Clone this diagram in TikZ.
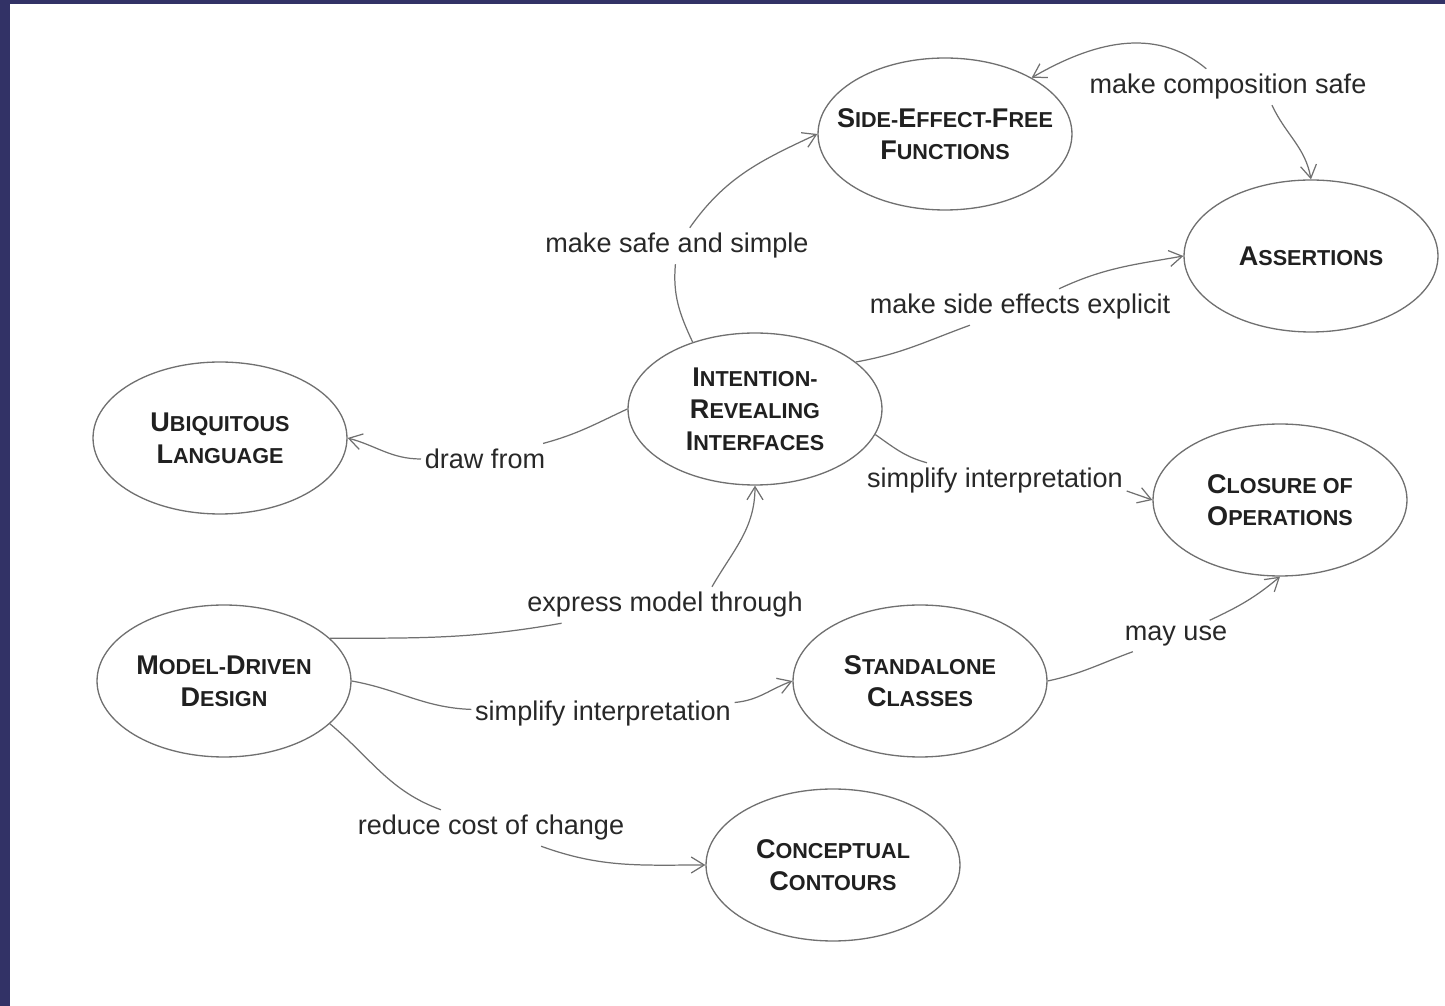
\documentclass[tikz,border=0pt]{standalone}
\usepackage{fontspec}
\setmainfont{Liberation Sans}
\usepackage{tikz}
\usetikzlibrary{positioning,arrows.meta,shapes.geometric}
\definecolor{framec}{RGB}{50,50,102}
\definecolor{edgec}{RGB}{112,112,112}
\definecolor{textc}{RGB}{40,40,40}
\newcommand\capw[2]{{\fontsize{15.4}{18.2}\selectfont#1}{\fontsize{12.3}{18.2}\selectfont#2}}
\tikzset{
  concept/.style = {ellipse, draw=edgec, line width=0.75pt, minimum width=5.08cm, minimum height=3.04cm,
                    inner sep=-2cm, align=center, text=textc!80!black,
                    font=\bfseries\fontsize{12.3}{18.2}\selectfont},
  rel/.style     = {inner xsep=2pt, inner ysep=3pt, text=textc, font=\fontsize{15.4}{18}\selectfont},
  link/.style    = {-{Straight Barb[length=2.6mm,width=3.2mm]}, draw=edgec, line width=0.7pt},
}
\begin{document}
\begin{tikzpicture}[x=0.02cm, y=-0.02cm]
\useasboundingbox (0,0) rectangle (1445,1006);
\fill[framec] (0,0) rectangle (1445,4);
\fill[framec] (0,0) rectangle (10,1006);

% concepts
\node[concept] (sef) at (945,134) {\capw{S}{IDE}-\capw{E}{FFECT}-\capw{F}{REE}\\\capw{F}{UNCTIONS}};
\node[concept] (asr) at (1311,256) {\capw{A}{SSERTIONS}};
\node[concept] (iri) at (755,409) {\capw{I}{NTENTION}-\\\capw{R}{EVEALING}\\\capw{I}{NTERFACES}};
\node[concept] (ubl) at (220,438) {\capw{U}{BIQUITOUS}\\\capw{L}{ANGUAGE}};
\node[concept] (cls) at (1280,500) {\capw{C}{LOSURE OF}\\\capw{O}{PERATIONS}};
\node[concept] (mdd) at (224,681) {\capw{M}{ODEL}-\capw{D}{RIVEN}\\\capw{D}{ESIGN}};
\node[concept] (sac) at (920,681) {\capw{S}{TANDALONE}\\\capw{C}{LASSES}};
\node[concept] (ccn) at (833,865) {\capw{C}{ONCEPTUAL}\\\capw{C}{ONTOURS}};

% relation labels
\node[rel] (safe)   at (677,246)  {make safe and simple};
\node[rel] (comp)   at (1228,87)  {make composition safe};
\node[rel] (expl)   at (1020,307) {make side effects explicit};
\node[rel] (draw)   at (485,459)  {draw from};
\node[rel] (simpa)  at (995,481)  {simplify interpretation};
\node[rel] (expr)   at (665,605)  {express model through};
\node[rel] (simpb)  at (603,714)  {simplify interpretation};
\node[rel] (mayuse) at (1176,636) {may use};
\node[rel] (cost)   at (491,828)  {reduce cost of change};

% relations
\draw[link] (iri.133) to[out=115,in=-95] (safe) to[out=55,in=205] (sef.west);
\draw[link] (comp) to[out=140,in=30] (sef.33);
\draw[link] ([xshift=0.88cm]comp.south) to[out=-65,in=100] (asr.north);
\draw[link] (iri.25) to[out=10,in=200] (expl) to[out=25,in=190] (asr.west);
\draw[link] (iri.west) to[out=205,in=15] (draw) to[out=180,in=-15] (ubl.east);
\draw[link] (iri.-12) to[out=-35,in=165] (simpa) ([yshift=-0.2cm]simpa.east) -- (cls.west);
\draw[link] (mdd.22) to[out=0,in=190] (expr) ([xshift=0.94cm]expr.north) to[out=60,in=-90] (iri.south);
\draw[link] (mdd.east) to[out=-10,in=178] (simpb) to[out=5,in=200] (sac.west);
\draw[link] (sac.east) to[out=12,in=200] (mayuse) to[out=25,in=220] (cls.south);
\draw[link] (mdd.-22) to[out=-40,in=160] (cost) to[out=-20,in=180] (ccn.west);
\end{tikzpicture}
\end{document}
